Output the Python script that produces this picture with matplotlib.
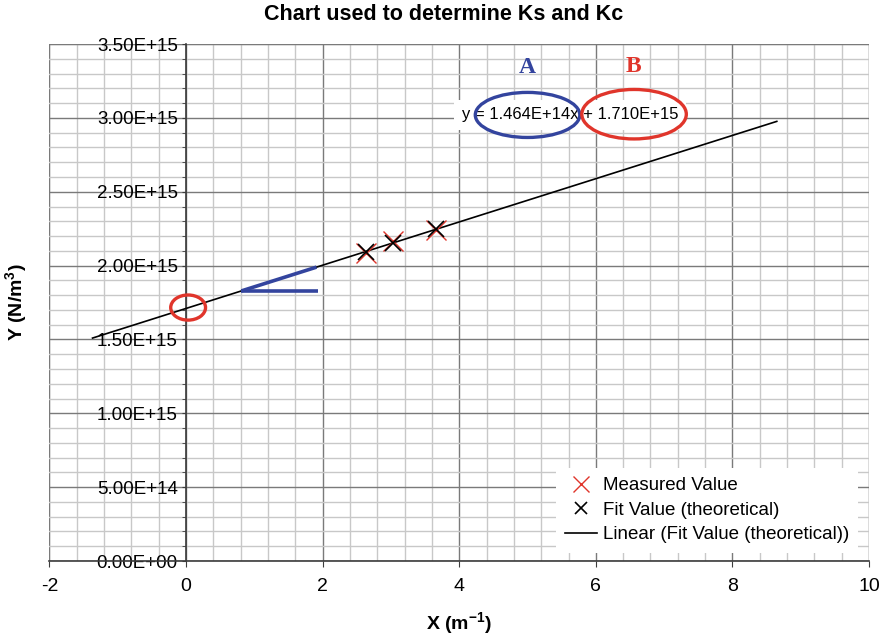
import numpy as np
import matplotlib
matplotlib.use("Agg")
import matplotlib.pyplot as plt
from matplotlib.patches import Ellipse, Rectangle
from matplotlib.ticker import MultipleLocator, FuncFormatter

plt.rcParams["font.family"] = ["Liberation Sans", "DejaVu Sans"]
plt.rcParams["mathtext.fontset"] = "custom"
plt.rcParams["mathtext.rm"] = "Liberation Sans"
plt.rcParams["mathtext.bf"] = "Liberation Sans:bold"
plt.rcParams["axes.unicode_minus"] = False

# measured points and linear fit
x_meas = [2.63, 3.03, 3.66]
y_meas = [2.085e15, 2.168e15, 2.241e15]
slope = 1.464e14
intercept = 1.710e15
trend_x = [-1.37, 8.65]

x_fit = np.array(x_meas)
y_fit = slope * x_fit + intercept
trend_y = slope * np.array(trend_x) + intercept

# slope sketch (run from x0 to x1 along the line)
tri_x = [0.81, 1.91]

red = "#e0352b"
blue = "#33449e"

fig = plt.figure(figsize=(8.87, 6.4), dpi=100)
ax = fig.add_axes([0.0558, 0.1234, 0.9239, 0.8078])

ax.set_xlim(-2, 10)
ax.set_ylim(0, 3.5e15)

ax.xaxis.set_major_locator(MultipleLocator(2))
ax.xaxis.set_minor_locator(MultipleLocator(0.4))
ax.yaxis.set_major_locator(MultipleLocator(5e14))
ax.yaxis.set_minor_locator(MultipleLocator(1e14))
ax.yaxis.set_major_formatter(FuncFormatter(lambda v, p: f"{v:.2E}"))

ax.grid(which="minor", color="#c8c8c8", lw=1.0, zorder=0)
ax.grid(which="major", color="#7a7a7a", lw=1.0, zorder=0)
ax.set_axisbelow(True)
for t in ax.xaxis.get_major_ticks():
    if t.get_loc() in (-2, 10):
        t.gridline.set_color("#c8c8c8")
for t in ax.yaxis.get_major_ticks():
    if t.get_loc() >= 3.49e15:
        t.gridline.set_color("#c8c8c8")

ax.add_patch(Rectangle((0, 0), 1, 1, transform=ax.transAxes, fill=False,
                       ec="#c8c8c8", lw=1.0, zorder=0.5))

for s in ("top", "right"):
    ax.spines[s].set_visible(False)
ax.spines["left"].set_position(("data", 0))
ax.spines["left"].set_color("#3c3c3c")
ax.spines["bottom"].set_color("#3c3c3c")
ax.spines["left"].set_linewidth(1.2)
ax.spines["bottom"].set_linewidth(1.2)

ax.tick_params(axis="x", which="major", direction="out", length=4,
               color="#3c3c3c", labelsize=14, pad=8)
ax.tick_params(axis="x", which="minor", length=0)
ax.tick_params(axis="y", which="both", direction="out", length=3,
               color="#3c3c3c", labelsize=13.5, pad=3)

# trendline, fit and measured values
ax.plot(trend_x, trend_y, color="black", lw=1.2, zorder=3,
        label="Linear (Fit Value (theoretical))")
ax.plot(x_meas, y_meas, ls="none", marker="x", ms=15, mew=1.0,
        color=red, zorder=4, label="Measured Value")
ax.plot(x_fit, y_fit, ls="none", marker="x", ms=12, mew=1.2,
        color="black", zorder=5, label="Fit Value (theoretical)")

# slope sketch
ty = slope * np.array(tri_x) + intercept
ax.plot([tri_x[0], tri_x[1] + 0.02], [ty[0], ty[0]], color=blue, lw=2.6,
        solid_capstyle="butt", zorder=6)
ax.plot(tri_x, ty, color=blue, lw=2.6, solid_capstyle="butt", zorder=6)

# intercept marker
ax.add_patch(Ellipse((0.03, 1.716e15), 0.51, 0.17e15, fill=False,
                     ec=red, lw=2.4, zorder=6))

# equation label
eq = f"y = {slope:.3E}x + {intercept:.3E}"
ax.text(5.62, 3.02e15, eq, fontsize=12, ha="center", va="center", zorder=6,
        bbox=dict(boxstyle="square,pad=0.45", fc="white", ec="none"))
ax.add_patch(Ellipse((5.0, 3.02e15), 1.53, 0.305e15, fill=False,
                     ec=blue, lw=2.4, zorder=7))
ax.add_patch(Ellipse((6.56, 3.025e15), 1.53, 0.335e15, fill=False,
                     ec=red, lw=2.4, zorder=7))
ax.text(5.0, 3.34e15, "A", family="Liberation Serif", fontweight="bold",
        fontsize=17, color=blue, ha="center", va="center", zorder=7)
ax.text(6.55, 3.35e15, "B", family="Liberation Serif", fontweight="bold",
        fontsize=17, color=red, ha="center", va="center", zorder=7)

handles, labels = ax.get_legend_handles_labels()
order = [1, 2, 0]
leg = ax.legend([handles[i] for i in order], [labels[i] for i in order],
                loc="lower right", bbox_to_anchor=(0.987, 0.016), fontsize=13.5,
                frameon=True, fancybox=False, framealpha=1, edgecolor="none",
                facecolor="white", handlelength=1.7, handletextpad=0.3,
                labelspacing=0.4, borderpad=0.5, borderaxespad=0,
                markerscale=0.75)
leg.set_zorder(8)

ax.set_xlabel(r"X (m$^{\mathbf{-1}}$)", fontsize=14, fontweight="bold",
              labelpad=11)
ax.set_ylabel(r"Y (N/m$^{\mathbf{3}}$)", fontsize=14, fontweight="bold",
              va="center")
ax.yaxis.set_label_coords(-0.0397, 0.5)
fig.text(0.5, 0.978, "Chart used to determine Ks and Kc", fontsize=15.5,
         fontweight="bold", ha="center", va="center")

fig.savefig("out.png", dpi=100)
